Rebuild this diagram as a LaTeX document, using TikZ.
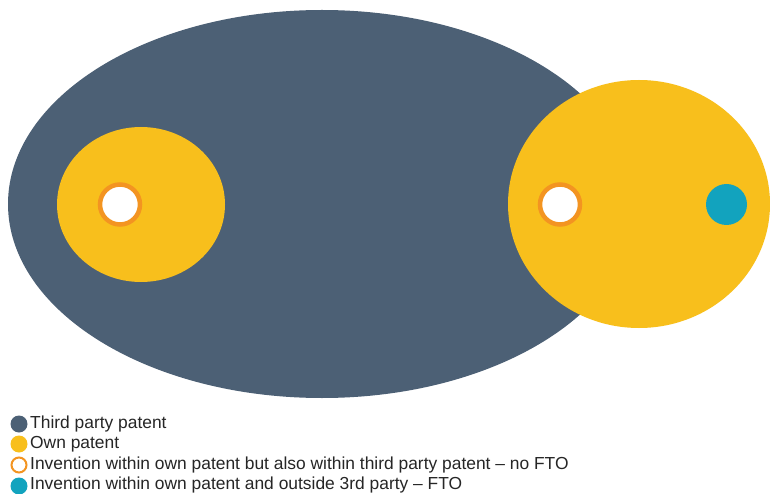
\documentclass[tikz,border=0pt]{standalone}
\usepackage{fontspec}
\setmainfont{Liberation Sans}
\definecolor{slate}{HTML}{4C6075}
\definecolor{sun}{HTML}{F8BF1C}
\definecolor{ring}{HTML}{F39421}
\definecolor{teal}{HTML}{12A3BE}
\begin{document}
\begin{tikzpicture}[x=1pt,y=-1pt,
  thirdparty/.style={fill=slate},
  ownpat/.style={fill=sun},
  nofto/.style={draw=ring,fill=white,line width=4.5pt},
  fto/.style={fill=teal},
  legtext/.style={anchor=west,inner sep=0pt,font=\fontsize{17.4}{19}\selectfont,text=black!85},
  legdot/.style={circle,inner sep=0pt,minimum size=17pt},
]
\useasboundingbox (0,0) rectangle (770,494);
\clip (0,0) rectangle (770,494);
\fill[white] (0,0) rectangle (770,494);

% third party patent
\path[thirdparty] (322,204) ellipse [x radius=314, y radius=194];
% own patents
\path[ownpat] (141,204.5) ellipse [x radius=84, y radius=77.5];
\path[ownpat] (639,204) ellipse [x radius=131, y radius=124];
% inventions
\path[nofto] (120,204.5) circle [radius=20];
\path[nofto] (560,204.5) circle [radius=20];
\path[fto] (726.5,204.5) circle [radius=20.5];

% legend
\node[legdot,fill=slate] (k1) at (19,424) {};
\node[legdot,fill=sun] (k2) at (19,444) {};
\node[legdot,draw=ring,fill=white,line width=2pt,minimum size=15pt] (k3) at (19,465) {};
\node[legdot,fill=teal] (k4) at (19,486) {};
\node[legtext] (t1) at (30,424) {Third party patent};
\node[legtext] (t2) at (30,444) {Own patent};
\node[legtext] (t3) at (30,465) {Invention within own patent but also within third party patent – no FTO};
\node[legtext] (t4) at (30,485) {Invention within own patent and outside 3rd party – FTO};
\end{tikzpicture}
\end{document}
